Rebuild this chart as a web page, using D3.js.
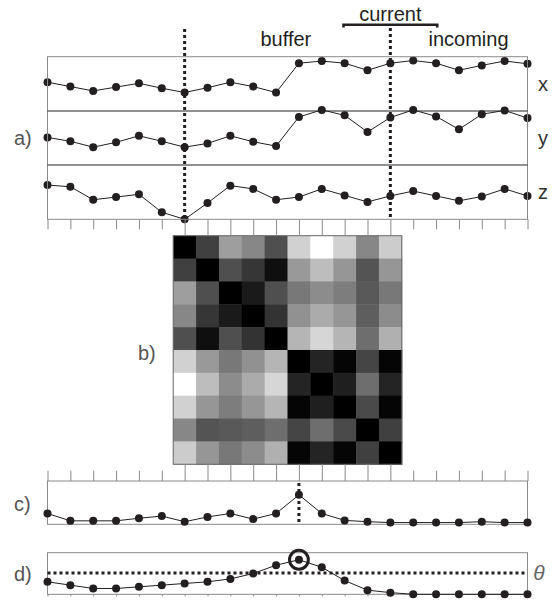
<!DOCTYPE html>
<html>
<head>
<meta charset="utf-8">
<script src="https://cdn.jsdelivr.net/npm/d3@7"></script>
<style>
body { margin: 0; background: #fff; }
text { font-family: "Liberation Sans", Arial, Helvetica, sans-serif; }
</style>
</head>
<body>
<svg id="chart" width="556" height="601"></svg>
<script>
/* signal samples, one per time step (22 steps) */
var xSignal = [5.3, 4.5, 3.7, 4.4, 5.1, 4.2, 3.4, 4.3, 5.3, 4.5, 3.4, 8.8, 9.2, 8.8, 7.5, 8.8, 9.3, 8.8, 7.5, 8.4, 9.2, 8.7];
var ySignal = [5.1, 4.4, 3.3, 4.2, 5.4, 4.4, 3.3, 4.0, 5.4, 4.3, 3.5, 8.9, 10.2, 9.2, 6.1, 8.8, 10.2, 9.0, 6.6, 9.4, 10.1, 8.7];
var zSignal = [6.3, 6.0, 3.6, 4.1, 4.6, 1.3, 0.0, 3.0, 6.2, 5.6, 3.6, 4.1, 5.6, 4.4, 3.2, 4.3, 5.2, 4.3, 3.4, 4.2, 5.6, 4.3];
var signalNames = ["x", "y", "z"];

/* buffer distance matrix (0 = same, 1 = far) */
var distMatrix = [
    [0.00, 0.25, 0.62, 0.53, 0.31, 0.82, 1.00, 0.82, 0.53, 0.80],
    [0.25, 0.00, 0.31, 0.21, 0.06, 0.60, 0.74, 0.59, 0.33, 0.59],
    [0.62, 0.31, 0.00, 0.10, 0.31, 0.47, 0.55, 0.49, 0.35, 0.47],
    [0.53, 0.21, 0.10, 0.00, 0.20, 0.57, 0.67, 0.59, 0.37, 0.55],
    [0.31, 0.06, 0.31, 0.20, 0.00, 0.71, 0.84, 0.71, 0.43, 0.69],
    [0.82, 0.60, 0.47, 0.57, 0.71, 0.00, 0.14, 0.02, 0.27, 0.02],
    [1.00, 0.74, 0.55, 0.67, 0.84, 0.14, 0.00, 0.12, 0.43, 0.14],
    [0.82, 0.59, 0.49, 0.59, 0.71, 0.02, 0.12, 0.00, 0.29, 0.02],
    [0.53, 0.33, 0.35, 0.37, 0.43, 0.27, 0.43, 0.29, 0.00, 0.25],
    [0.80, 0.59, 0.47, 0.55, 0.69, 0.02, 0.14, 0.02, 0.25, 0.00]
];

var cScore = [0.25, 0.08, 0.08, 0.08, 0.14, 0.19, 0.06, 0.17, 0.25, 0.12, 0.25, 0.68, 0.25, 0.09, 0.06, 0.04, 0.04, 0.04, 0.04, 0.06, 0.04, 0.04];
var dScore = [0.30, 0.22, 0.14, 0.14, 0.18, 0.22, 0.26, 0.30, 0.37, 0.50, 0.70, 0.83, 0.65, 0.33, 0.10, 0.04, 0.0, 0.0, 0.0, 0.0, 0.0, 0.0];
var theta = 0.51;

var bufferStart = 6, currentIdx = 15, peakIdx = 11;

var ink = "#231f20", frame = "#8a8a8a", labelGrey = "#555";

var svg = d3.select("#chart");

var x = d3.scaleLinear()
    .domain([0, xSignal.length - 1])
    .range([47.5, 527.5]);
var step = x(1) - x(0);

function drawSeries(g, data, y)
{
    var line = d3.line()
        .x(function(d, i) { return x(i); })
        .y(function(d) { return y(d); });

    g.append("path")
        .datum(data)
        .attr("d", line)
        .attr("fill", "none")
        .attr("stroke", ink)
        .attr("stroke-width", 1);

    g.selectAll("circle.pt")
        .data(data)
        .enter().append("circle")
        .attr("class", "pt")
        .attr("cx", function(d, i) { return x(i); })
        .attr("cy", function(d) { return y(d); })
        .attr("r", 4)
        .attr("fill", ink);
}

function dotted(x1, y1, x2, y2)
{
    svg.append("line")
        .attr("x1", x1).attr("y1", y1)
        .attr("x2", x2).attr("y2", y2)
        .attr("stroke", ink)
        .attr("stroke-width", 3)
        .attr("stroke-dasharray", "3,3");
}

function panelLabel(txt, px, py, anchor)
{
    svg.append("text")
        .attr("x", px)
        .attr("y", py)
        .attr("text-anchor", anchor || "start")
        .attr("font-size", 20)
        .attr("fill", labelGrey)
        .text(txt);
}

function tickAxis(axis, ty)
{
    var g = svg.append("g")
        .attr("transform", "translate(0," + ty + ")")
        .call(axis);
    g.select(".domain").remove();
    g.selectAll("line").attr("stroke", frame);
    g.selectAll("text").remove();
    return g;
}

// ---- a) the three signals ----
var aTop = 56.7, aBottom = 219.3;
var rowEdges = [56.7, 111, 165, 219.3];
var signals = [xSignal, ySignal, zSignal];

signals.forEach(function(sig, k) {
    var y = d3.scaleLinear()
        .domain([0, 10])
        .range([rowEdges[k + 1], rowEdges[k]]);
    drawSeries(svg.append("g"), sig, y);

    svg.append("text")
        .attr("x", 543)
        .attr("y", (rowEdges[k] + rowEdges[k + 1]) / 2 + 7)
        .attr("text-anchor", "middle")
        .attr("font-size", 20)
        .attr("fill", "#333")
        .text(signalNames[k]);
});

svg.append("rect")
    .attr("x", x(0)).attr("y", aTop)
    .attr("width", x(21) - x(0)).attr("height", aBottom - aTop)
    .attr("fill", "none")
    .attr("stroke", frame);

[rowEdges[1], rowEdges[2]].forEach(function(yy) {
    svg.append("line")
        .attr("x1", x(0)).attr("x2", x(21))
        .attr("y1", yy).attr("y2", yy)
        .attr("stroke", "#222");
});

tickAxis(d3.axisBottom(x).tickValues(d3.range(22)).tickSize(10).tickFormat(""), aBottom);

dotted(x(bufferStart), 29, x(bufferStart), aBottom);
dotted(x(currentIdx), 28, x(currentIdx), aBottom);

// window labels
svg.append("text").attr("x", x(10.43)).attr("y", 45.5)
    .attr("text-anchor", "middle").attr("font-size", 20).attr("fill", ink).text("buffer");
svg.append("text").attr("x", x(18.42)).attr("y", 45.5)
    .attr("text-anchor", "middle").attr("font-size", 20).attr("fill", ink).text("incoming");
svg.append("text").attr("x", x(currentIdx)).attr("y", 20.5)
    .attr("text-anchor", "middle").attr("font-size", 20).attr("fill", ink).text("current");
svg.append("path")
    .attr("d", "M" + x(12.95) + ",27.5V24.7H" + x(17.05) + "V27.5")
    .attr("fill", "none")
    .attr("stroke", ink)
    .attr("stroke-width", 2.6);

panelLabel("a)", 14, 145);

// ---- b) distance matrix of the buffer ----
var hmTop = 235.7;
var n = distMatrix.length;
var grey = d3.scaleLinear().domain([0, 1]).range(["#000000", "#ffffff"]);
var cellX = d3.scaleBand()
    .domain(d3.range(n))
    .range([x(bufferStart - 0.5), x(bufferStart + n - 0.5)]);
var cellY = d3.scaleBand()
    .domain(d3.range(n))
    .range([hmTop, hmTop + n * step]);

var hm = svg.append("g");
distMatrix.forEach(function(row, r) {
    hm.selectAll("rect.r" + r)
        .data(row)
        .enter().append("rect")
        .attr("class", "r" + r)
        .attr("x", function(d, c) { return cellX(c); })
        .attr("y", cellY(r))
        .attr("width", cellX.bandwidth() + 0.5)
        .attr("height", cellY.bandwidth() + 0.5)
        .attr("fill", function(d) { return grey(d); });
});
hm.append("rect")
    .attr("x", cellX.range()[0]).attr("y", hmTop)
    .attr("width", n * step).attr("height", n * step)
    .attr("fill", "none")
    .attr("stroke", "#666");

var hmTicks = d3.range(bufferStart, bufferStart + n);
tickAxis(d3.axisTop(x).tickValues(hmTicks).tickSize(6.5).tickFormat(""), hmTop);
tickAxis(d3.axisBottom(x).tickValues(hmTicks).tickSize(6.5).tickFormat(""), hmTop + n * step);

panelLabel("b)", 138, 360);

// ---- c) novelty score ----
var cTop = 481, cBottom = 524.3;
var yc = d3.scaleLinear().domain([0, 1]).range([cBottom, cTop]);

svg.append("rect")
    .attr("x", x(0)).attr("y", cTop)
    .attr("width", x(21) - x(0)).attr("height", cBottom - cTop)
    .attr("fill", "none")
    .attr("stroke", frame);
tickAxis(d3.axisTop(x).tickValues(d3.range(22)).tickSize(10.3).tickFormat(""), cTop);
dotted(x(peakIdx), cTop + 2, x(peakIdx), cBottom);
drawSeries(svg.append("g"), cScore, yc);

panelLabel("c)", 14, 511);

// ---- d) smoothed score with threshold ----
var dTop = 552.7, dBottom = 594.3;
var yd = d3.scaleLinear().domain([0, 1]).range([dBottom, dTop]);

svg.append("rect")
    .attr("x", x(0)).attr("y", dTop)
    .attr("width", x(21) - x(0)).attr("height", dBottom - dTop)
    .attr("fill", "none")
    .attr("stroke", frame);
tickAxis(d3.axisBottom(x).tickValues(d3.range(22)).tickSize(2).tickFormat(""), dBottom);
dotted(x(0), yd(theta), x(21), yd(theta));
drawSeries(svg.append("g"), dScore, yd);

svg.append("circle")
    .attr("cx", x(peakIdx))
    .attr("cy", yd(dScore[peakIdx]))
    .attr("r", 9.4)
    .attr("fill", "none")
    .attr("stroke", ink)
    .attr("stroke-width", 3);

svg.append("text")
    .attr("x", 539)
    .attr("y", yd(theta) + 7)
    .attr("text-anchor", "middle")
    .attr("font-size", 21)
    .attr("font-style", "italic")
    .attr("font-family", "'Liberation Serif', 'DejaVu Serif', serif")
    .attr("fill", "#666")
    .text("θ");

panelLabel("d)", 14, 581);
</script>
</body>
</html>
